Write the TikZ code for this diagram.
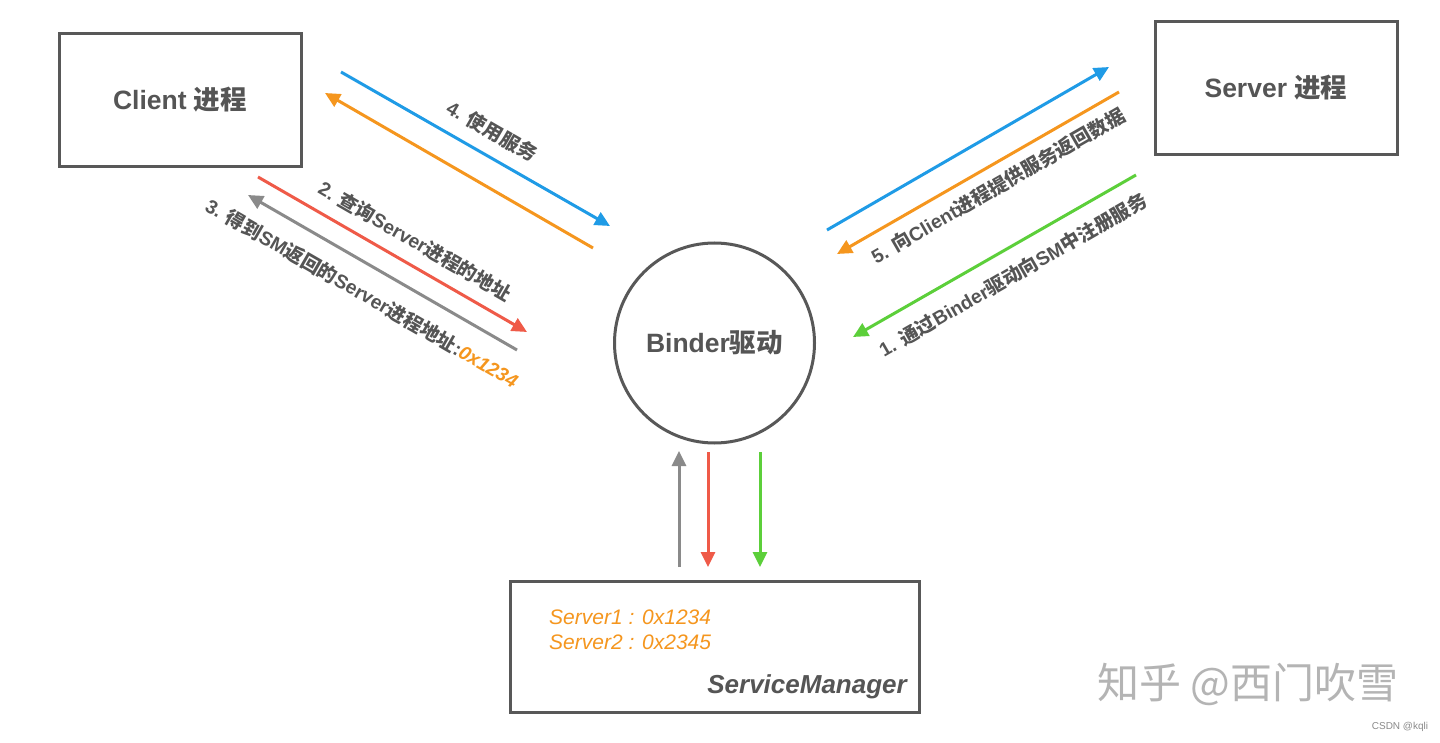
\documentclass[tikz,border=0pt]{standalone}
\usepackage{fontspec}
\setmainfont{Liberation Sans}
\newfontfamily\cjkf{Noto Sans CJK SC}
\newcommand\zh[1]{{\cjkf #1}}
\usetikzlibrary{arrows.meta}
\definecolor{txt}{HTML}{555555}
\definecolor{boxc}{HTML}{585858}
\definecolor{cblue}{HTML}{1F9BE6}
\definecolor{corange}{HTML}{F5961E}
\definecolor{cred}{HTML}{EF5A48}
\definecolor{cgray}{HTML}{8A8A8A}
\definecolor{cgreen}{HTML}{5CCF3A}
\definecolor{wm}{HTML}{B4B4B4}
\begin{document}
\begin{tikzpicture}[x=1pt,y=-1pt,
  box/.style={draw=boxc, line width=3pt, text=txt, font=\bfseries\fontsize{26.5}{30}\selectfont,
    minimum width=242pt, minimum height=133pt, inner sep=0pt},
  arr/.style={line width=3pt, -{Triangle[length=15pt,width=14pt]}},
  lab/.style={text=txt, font=\bfseries\fontsize{19.3}{22}\selectfont, inner sep=0pt},
  sm/.style={text=corange, font=\itshape\fontsize{21}{25}\selectfont, inner sep=0pt, anchor=base west}]
\path[use as bounding box, fill=white] (0,0) rectangle (1440,743);

% nodes
\node[box] (client) at (180,100) {Client \zh{进程}};
\node[box] (server) at (1276,88) {Server \zh{进程}};
\node[draw=boxc, line width=3pt, circle, minimum size=200pt, inner sep=0pt, text=txt,
  font=\bfseries\fontsize{26.5}{30}\selectfont] (binder) at (714.5,343) {Binder\zh{驱动}};
\node[draw=boxc, line width=3pt, minimum width=409pt, minimum height=131pt, inner sep=0pt] (sm) at (715,647) {};
\node[sm] (s1) at (549,624) {Server1 : 0x1234};
\node[sm] (s2) at (549,649) {Server2 : 0x2345};
\node[text=txt, font=\bfseries\itshape\fontsize{26}{30}\selectfont, inner sep=0pt, anchor=base east] (smname) at (907,693) {ServiceManager};

% endpoints
\coordinate (b4s) at (341,72);   \coordinate (b4e) at (610,226);
\coordinate (o4s) at (593,248);  \coordinate (o4e) at (325,93);
\coordinate (r2s) at (258,177);  \coordinate (r2e) at (527,332);
\coordinate (g3s) at (517,350);  \coordinate (g3e) at (248,195);
\coordinate (b5s) at (827,230);  \coordinate (b5e) at (1109,67);
\coordinate (o5s) at (1119,92);  \coordinate (o5e) at (837,254);
\coordinate (gr1s) at (1136,175); \coordinate (gr1e) at (853,337);
\coordinate (vgs) at (679,567);  \coordinate (vge) at (679,451);
\coordinate (vrs) at (708,452);  \coordinate (vre) at (708,567);
\coordinate (vns) at (760,452);  \coordinate (vne) at (760,567);

\draw[arr, cblue] (b4s) -- (b4e);
\draw[arr, corange] (o4s) -- (o4e);
\draw[arr, cred] (r2s) -- (r2e);
\draw[arr, cgray] (g3s) -- (g3e);
\draw[arr, cblue] (b5s) -- (b5e);
\draw[arr, corange] (o5s) -- (o5e);
\draw[arr, cgreen] (gr1s) -- (gr1e);
\draw[arr, cgray] (vgs) -- (vge);
\draw[arr, cred] (vrs) -- (vre);
\draw[arr, cgreen] (vns) -- (vne);

% labels
\node[lab, rotate=-30] (l4) at (492,131) {4. \zh{使用服务}};
\node[lab, rotate=-30] (l2) at (415,241) {2. \zh{查询}Server\zh{进程的地址}};
\node[lab, rotate=-30] (l3) at (362,293) {3. \zh{得到}SM\zh{返回的}Server\zh{进程地址}:\textcolor{corange}{\itshape 0x1234}};
\node[lab, rotate=30] (l5) at (998,186) {5. \zh{向}Client\zh{进程提供服务返回数据}};
\node[lab, rotate=30] (l1) at (1013,275) {1. \zh{通过}Binder\zh{驱动向}SM\zh{中注册服务}};

% watermarks
\node[text=wm, font=\cjkf\fontsize{42}{46}\selectfont, inner sep=0pt] (wm1) at (1248,684) {知乎 @西门吹雪};
\node[text=cgray, font=\fontsize{10}{12}\selectfont, inner sep=0pt] (wm2) at (1400,727) {CSDN @kqli};
\end{tikzpicture}
\end{document}
